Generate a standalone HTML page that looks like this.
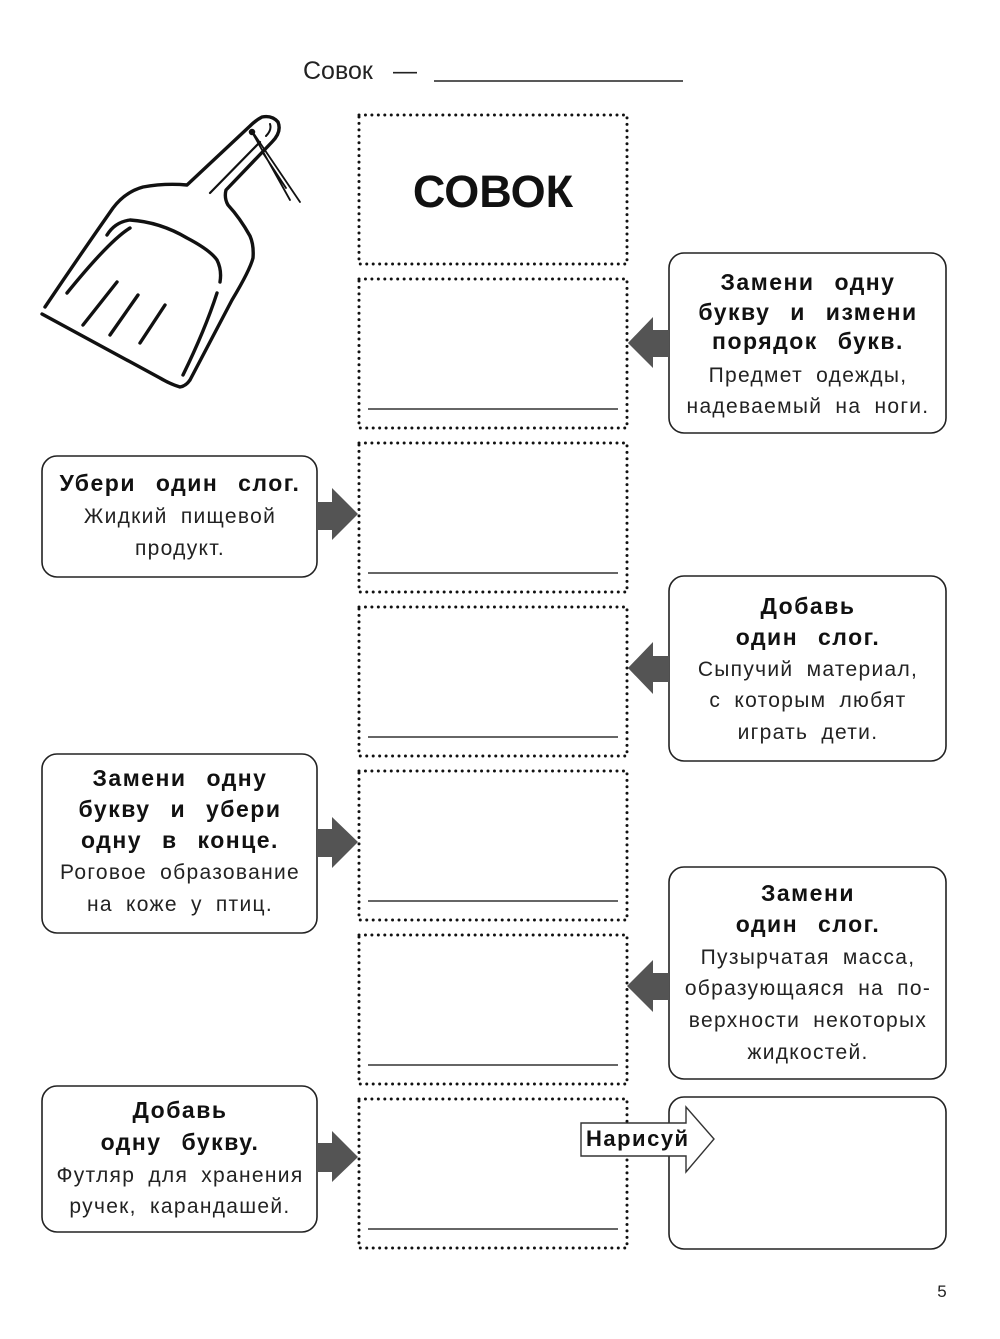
<!DOCTYPE html>
<html><head><meta charset="utf-8">
<style>
html,body{margin:0;padding:0;background:#fff;}
svg{display:block;}
.b{font-family:"Liberation Sans","DejaVu Sans",sans-serif;font-weight:bold;font-size:23px;letter-spacing:1.5px;word-spacing:12px;fill:#111;}
.r{font-family:"Liberation Sans","DejaVu Sans",sans-serif;font-size:21px;letter-spacing:1.3px;word-spacing:6px;fill:#222;}
</style></head>
<body>
<svg width="1000" height="1339" viewBox="0 0 1000 1339" xmlns="http://www.w3.org/2000/svg">
<rect width="1000" height="1339" fill="#fff"/>

<!-- header -->
<text x="303" y="79" font-family="Liberation Sans, DejaVu Sans, sans-serif" font-size="25" fill="#222">Совок</text>
<text x="393" y="79" font-family="Liberation Sans, DejaVu Sans, sans-serif" font-size="24" fill="#222">—</text>
<line x1="434" y1="81" x2="683" y2="81" stroke="#222" stroke-width="1.6"/>

<!-- dustpan -->
<g fill="none" stroke="#111" stroke-width="3.4" stroke-linecap="round" stroke-linejoin="round">
  <path d="M42,314 L160,378 Q170,384 180,387 Q186,386 190,380 L232,300 Q250,270 253,258 Q254,245 250,236 Q240,218 228,205 Q224,198 226,190 L272,142 Q282,132 278,122 Q272,115 262,117 Q256,120 250,126 L187,185 Q165,183 143,187 Q125,192 113,208 Q80,255 45,307"/>
  <path d="M107,235 Q115,222 130,220 Q160,222 187,238 Q210,250 217,260 Q222,270 220,282"/>
  <path d="M217,293 Q205,330 183,375"/>
  <path d="M130,228 Q110,240 67,293"/>
  <path d="M210,193 L260,142" stroke-width="2.2"/>
  <path d="M270,124 Q272,130 266,136" stroke-width="2"/>
  <path d="M117,282 L83,325"/>
  <path d="M138,295 L110,335"/>
  <path d="M165,305 L140,343"/>
  <circle cx="252" cy="132" r="2.5" fill="#111" stroke-width="1.5"/>
  <path d="M252,132 L290,200 M254,134 L300,202 M263,153 L286,188" stroke-width="1.8"/>
</g>

<!-- dotted column -->
<g fill="none" stroke="#111" stroke-width="3" stroke-linecap="round" stroke-dasharray="0 6.45">
  <rect x="359" y="115" width="268" height="149"/>
  <rect x="359" y="279" width="268" height="149"/>
  <rect x="359" y="443" width="268" height="149"/>
  <rect x="359" y="607" width="268" height="149"/>
  <rect x="359" y="771" width="268" height="149"/>
  <rect x="359" y="935" width="268" height="149"/>
  <rect x="359" y="1099" width="268" height="149"/>
</g>
<g stroke="#333" stroke-width="1.4">
  <line x1="368" y1="409" x2="618" y2="409"/>
  <line x1="368" y1="573" x2="618" y2="573"/>
  <line x1="368" y1="737" x2="618" y2="737"/>
  <line x1="368" y1="901" x2="618" y2="901"/>
  <line x1="368" y1="1065" x2="618" y2="1065"/>
  <line x1="368" y1="1229" x2="618" y2="1229"/>
</g>
<text x="493" y="207" text-anchor="middle" font-family="Liberation Sans, DejaVu Sans, sans-serif" font-weight="bold" font-size="45" fill="#111">СОВОК</text>

<!-- boxes -->
<g fill="#fff" stroke="#222" stroke-width="1.6">
  <rect x="669" y="253" width="277" height="180" rx="15"/>
  <rect x="42" y="456" width="275" height="121" rx="15"/>
  <rect x="669" y="576" width="277" height="185" rx="15"/>
  <rect x="42" y="754" width="275" height="179" rx="15"/>
  <rect x="669" y="867" width="277" height="212" rx="15"/>
  <rect x="42" y="1086" width="275" height="146" rx="15"/>
  <rect x="669" y="1097" width="277" height="152" rx="15"/>
</g>

<!-- arrows -->
<g fill="#545454">
  <polygon points="628,343 653,317 653,330 669,330 669,357 653,357 653,368"/>
  <polygon points="628,668 653,642 653,656 669,656 669,682 653,682 653,694"/>
  <polygon points="627,986 653,960 653,973 669,973 669,1000 653,1000 653,1012"/>
  <polygon points="358,514 332,488 332,502 317,502 317,530 332,530 332,540"/>
  <polygon points="358,842 332,817 332,829 317,829 317,857 332,857 332,868"/>
  <polygon points="358,1157 332,1131 332,1143 317,1143 317,1172 332,1172 332,1182"/>
</g>

<!-- Нарисуй arrow -->
<polygon points="581,1123 686,1123 686,1107 714,1139 686,1172 686,1156 581,1156" fill="#fff" stroke="#333" stroke-width="1.4"/>
<text x="586" y="1146" font-family="Liberation Sans, DejaVu Sans, sans-serif" font-weight="bold" font-size="22" letter-spacing="1.5" fill="#111">Нарисуй</text>

<!-- box A text -->
<g text-anchor="middle">
  <text class="b" x="808" y="290">Замени одну</text>
  <text class="b" x="808" y="320">букву и измени</text>
  <text class="b" x="808" y="349">порядок букв.</text>
  <text class="r" x="808" y="382">Предмет одежды,</text>
  <text class="r" x="808" y="413">надеваемый на ноги.</text>

  <text class="b" x="180" y="491">Убери один слог.</text>
  <text class="r" x="180" y="523">Жидкий пищевой</text>
  <text class="r" x="180" y="555">продукт.</text>

  <text class="b" x="808" y="614">Добавь</text>
  <text class="b" x="808" y="645">один слог.</text>
  <text class="r" x="808" y="676">Сыпучий материал,</text>
  <text class="r" x="808" y="707">с которым любят</text>
  <text class="r" x="808" y="739">играть дети.</text>

  <text class="b" x="180" y="786">Замени одну</text>
  <text class="b" x="180" y="817">букву и убери</text>
  <text class="b" x="180" y="848">одну в конце.</text>
  <text class="r" x="180" y="879">Роговое образование</text>
  <text class="r" x="180" y="911">на коже у птиц.</text>

  <text class="b" x="808" y="901">Замени</text>
  <text class="b" x="808" y="932">один слог.</text>
  <text class="r" x="808" y="964">Пузырчатая масса,</text>
  <text class="r" x="808" y="995">образующаяся на по-</text>
  <text class="r" x="808" y="1027">верхности некоторых</text>
  <text class="r" x="808" y="1059">жидкостей.</text>

  <text class="b" x="180" y="1118">Добавь</text>
  <text class="b" x="180" y="1150">одну букву.</text>
  <text class="r" x="180" y="1182">Футляр для хранения</text>
  <text class="r" x="180" y="1213">ручек, карандашей.</text>
</g>

<text x="942" y="1297" text-anchor="middle" font-family="Liberation Sans, DejaVu Sans, sans-serif" font-size="17" fill="#222">5</text>
</svg>
</body></html>
